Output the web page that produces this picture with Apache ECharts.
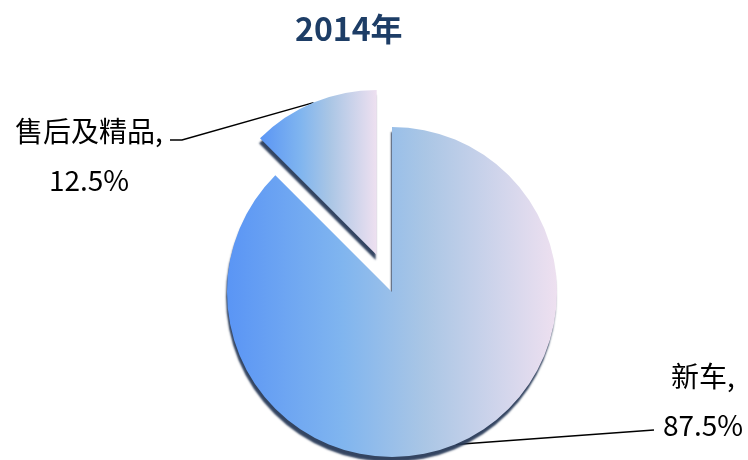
<!DOCTYPE html>
<html>
<head>
<meta charset="utf-8">
<script src="https://cdn.jsdelivr.net/npm/echarts@6/dist/echarts.min.js"></script>
</head>
<body style="margin:0">
<div id="main" style="width: 748px;height:460px;"></div>
<script type="text/javascript">
    // 数据
    var names = ['新车', '售后及精品'];
    var values = [87.5, 12.5];
    var exploded = 1;          // 分离出来的扇区
    var explodeDist = 40;

    // 饼图位置
    var cx = 392, cy = 292, R = 165;

    var myChart = echarts.init(document.getElementById('main'));

    // 横向渐变：蓝 -> 浅粉
    var fill = {
        type: 'linear', x: 0, y: 0, x2: 1, y2: 0,
        colorStops: [
            { offset: 0, color: '#5a95f5' },
            { offset: 0.35, color: '#80b5ef' },
            { offset: 0.6, color: '#aac6e5' },
            { offset: 1, color: '#eee0f0' }
        ]
    };

    // 分离扇区的偏移方向（扇区中线，从正上方顺时针）
    var total = values.reduce(function (a, b) { return a + b; }, 0);
    var before = 0;
    for (var k = 0; k < exploded; k++) before += values[k];
    var midAng = (before + values[exploded] / 2) / total * 2 * Math.PI;
    var ox = explodeDist * Math.sin(midAng);
    var oy = -explodeDist * Math.cos(midAng);

    var hidden = {
        itemStyle: { color: 'rgba(0,0,0,0)', shadowColor: 'rgba(0,0,0,0)' },
        label: { show: false },
        labelLine: { show: false }
    };

    function makeData(showIdx) {
        return names.map(function (n, i) {
            var d = { name: n, value: values[i] };
            if (showIdx.indexOf(i) < 0) {
                d.itemStyle = hidden.itemStyle;
                d.label = hidden.label;
                d.labelLine = hidden.labelLine;
            }
            return d;
        });
    }

    // 标签相对饼心的位置，以及引线终点
    function placeLabel(params) {
        var p0 = params.labelLinePoints ? params.labelLinePoints[0] : [cx, cy];
        if (params.dataIndex === 1) {
            return {
                x: cx - 303, y: cy - 136,
                align: 'center', verticalAlign: 'middle',
                labelLinePoints: [p0, [cx - 210, cy - 152], [cx - 222, cy - 152]]
            };
        }
        var end = [cx + 262, cy + 138];
        return {
            x: cx + 311, y: cy + 109,
            align: 'center', verticalAlign: 'middle',
            labelLinePoints: [p0, [(p0[0] + end[0]) / 2, (p0[1] + end[1]) / 2], end]
        };
    }

    var base = {
        type: 'pie',
        radius: [0, R],
        startAngle: 90,
        clockwise: true,
        animation: false,
        silent: true,
        itemStyle: {
            color: fill,
            shadowColor: 'rgba(40,58,88,0.95)',
            shadowBlur: 2,
            shadowOffsetX: -1,
            shadowOffsetY: 5
        },
        emphasis: { disabled: true },
        label: {
            position: 'outside',
            formatter: '{a|{b},}\n{a|{c}%}',
            color: '#000',
            rich: {
                a: {
                    fontFamily: 'Noto Sans CJK SC',
                    fontSize: 28,
                    lineHeight: 49,
                    align: 'center',
                    color: '#000'
                }
            }
        },
        labelLine: {
            show: true,
            length: 5,
            length2: 40,
            lineStyle: { color: '#000', width: 1.5 }
        },
        labelLayout: placeLabel
    };

    var rest = [];
    for (var i = 0; i < values.length; i++) if (i !== exploded) rest.push(i);

    var option = {
        title: {
            text: '2014年',
            left: 290,
            top: 8,
            textStyle: {
                fontFamily: 'Noto Sans CJK SC',
                fontSize: 32,
                fontWeight: 'bold',
                color: '#1d3d66'
            }
        },
        series: [
            Object.assign({}, base, { center: [cx, cy], data: makeData(rest) }),
            Object.assign({}, base, { center: [cx + ox, cy + oy], data: makeData([exploded]) })
        ]
    };

    myChart.setOption(option);
</script>
</body>
</html>
